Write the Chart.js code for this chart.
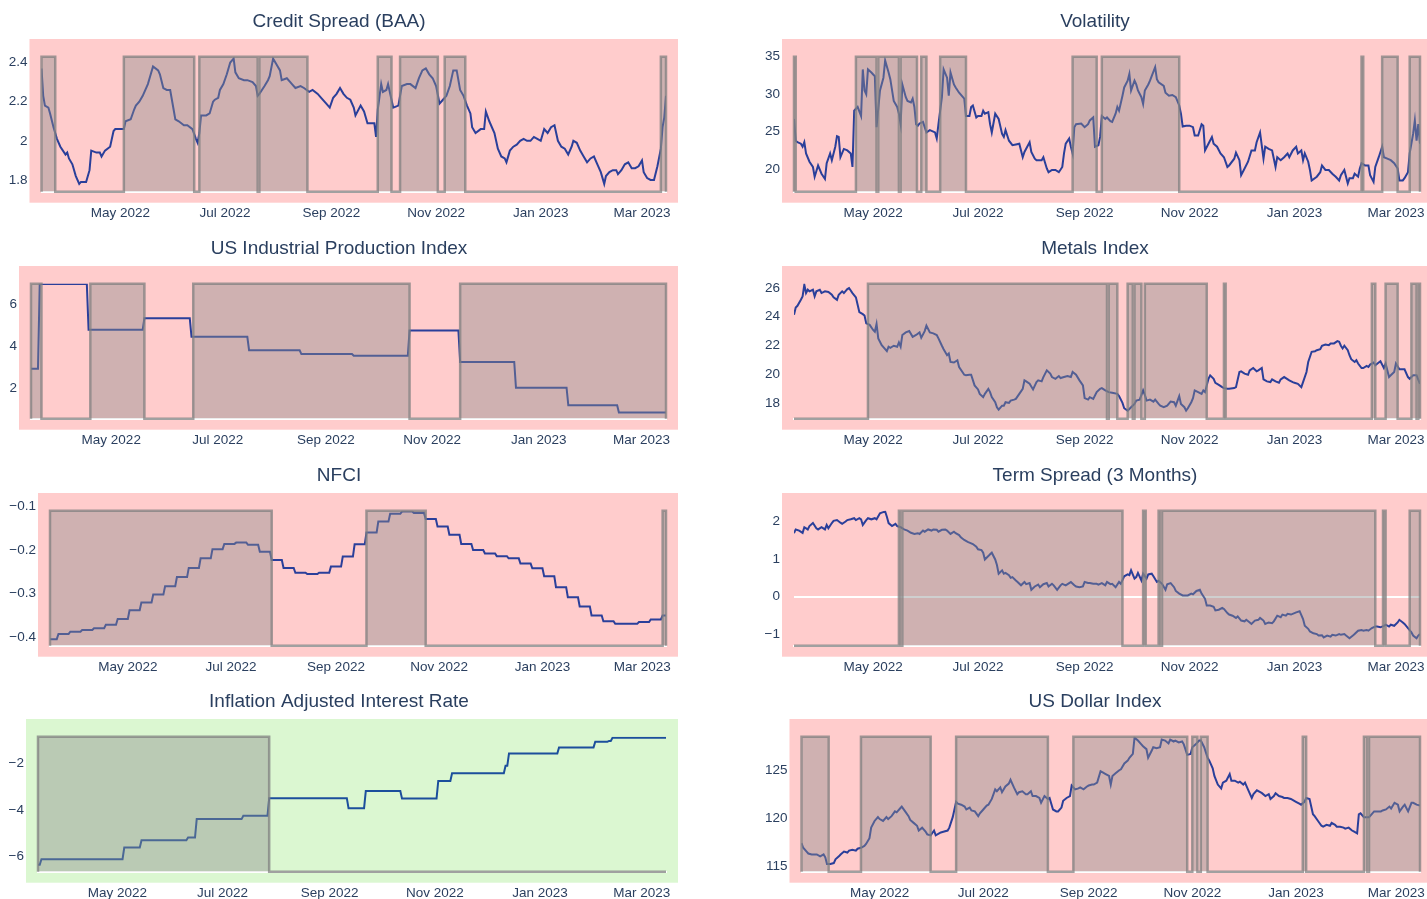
<!DOCTYPE html>
<html>
<head>
<meta charset="utf-8">
<script src="https://cdn.jsdelivr.net/npm/chart.js@4.4.1/dist/chart.umd.min.js"></script>
<style>
  html, body { margin: 0; padding: 0; background: #fff; overflow: hidden; width: 1427px; height: 899px; position: relative; }
  canvas { position: absolute; }
</style>
</head>
<body>
<script>
// x values are days since 2022-03-16
const START = Date.UTC(2022, 2, 16);
const END_DAY = 364;
const monthTickDates = ['2022-05-01', '2022-07-01', '2022-09-01', '2022-11-01', '2023-01-01', '2023-03-01'];
const monthLabels = ['May 2022', 'Jul 2022', 'Sep 2022', 'Nov 2022', 'Jan 2023', 'Mar 2023'];

// ---- Credit Spread (BAA) [day, value]
const creditSpread = [[0,2.37],[1,2.23],[2,2.18],[4,2.17],[5,2.14],[7,2.07],[8,2.04],[9,2.01],[11,1.97],[14,1.93],[15,1.94],[16,1.91],[18,1.88],[20,1.82],[22,1.78],[23,1.79],[26,1.79],[28,1.85],[29,1.95],[32,1.94],[34,1.94],[35,1.92],[37,1.95],[40,1.97],[42,2.05],[43,2.06],[46,2.06],[48,2.06],[49,2.10],[52,2.11],[54,2.16],[55,2.18],[57,2.20],[59,2.23],[62,2.29],[63,2.32],[65,2.38],[68,2.36],[69,2.34],[71,2.27],[73,2.26],[75,2.26],[77,2.16],[78,2.11],[80,2.10],[83,2.08],[85,2.08],[88,2.06],[90,2.01],[91,1.99],[92,2.04],[93,2.13],[96,2.13],[98,2.14],[100,2.20],[101,2.21],[103,2.22],[104,2.26],[106,2.29],[108,2.34],[110,2.40],[112,2.42],[113,2.35],[115,2.32],[118,2.31],[120,2.31],[123,2.30],[125,2.28],[126,2.23],[127,2.24],[130,2.28],[132,2.31],[133,2.33],[135,2.42],[137,2.39],[139,2.36],[140,2.31],[143,2.32],[145,2.30],[146,2.29],[148,2.27],[151,2.28],[153,2.27],[156,2.25],[158,2.26],[161,2.24],[163,2.22],[166,2.19],[168,2.17],[170,2.22],[172,2.24],[174,2.27],[176,2.24],[178,2.22],[180,2.21],[182,2.17],[183,2.13],[186,2.18],[188,2.15],[190,2.09],[192,2.09],[194,2.09],[195,2.02],[196,2.16],[198,2.29],[199,2.25],[201,2.26],[202,2.29],[204,2.21],[205,2.17],[208,2.18],[210,2.28],[213,2.29],[215,2.29],[218,2.27],[220,2.32],[222,2.36],[224,2.37],[226,2.34],[228,2.32],[230,2.28],[232,2.19],[234,2.21],[236,2.23],[238,2.28],[240,2.36],[242,2.36],[244,2.26],[246,2.23],[248,2.18],[250,2.14],[251,2.07],[253,2.04],[256,2.06],[258,2.06],[259,2.15],[261,2.10],[264,2.04],[266,1.96],[268,1.92],[270,1.91],[271,1.89],[273,1.95],[275,1.97],[277,1.98],[279,2.00],[281,2.01],[283,2.00],[285,2.00],[287,2.02],[289,2.01],[291,2.00],[293,2.06],[295,2.04],[297,2.07],[299,2.08],[301,2.00],[303,1.97],[305,1.96],[307,1.93],[309,1.97],[310,2.00],[312,1.99],[314,1.95],[316,1.92],[318,1.89],[320,1.91],[322,1.92],[324,1.88],[326,1.84],[328,1.78],[329,1.82],[331,1.84],[333,1.85],[335,1.85],[336,1.83],[338,1.85],[340,1.88],[342,1.89],[344,1.86],[346,1.86],[348,1.87],[350,1.90],[351,1.84],[353,1.81],[355,1.80],[357,1.80],[359,1.87],[361,1.96],[362,2.07],[363,2.12],[364,2.23]];
const creditRegime = [[0,8],[48,89],[92,126],[127,155],[196,204],[209,231],[235,247],[361,364]];
const creditBand = [1.74, 2.43];
const creditTicks = [1.8, 2, 2.2, 2.4];

// ---- Volatility
const volatility = [[0,26.7],[1,23.8],[2,23.6],[4,23.4],[5,23.0],[6,23.6],[7,22.1],[9,21.0],[11,20.3],[12,19.0],[14,20.5],[16,19.4],[18,18.7],[19,20.8],[21,22.1],[22,21.2],[24,23.0],[25,24.4],[26,24.3],[27,21.6],[29,22.7],[31,22.5],[33,22.1],[34,20.3],[35,27.8],[37,28.3],[39,27.1],[40,33.3],[41,30.5],[42,30.0],[43,33.3],[45,32.9],[47,32.4],[48,25.6],[50,30.5],[52,32.2],[53,34.5],[55,32.9],[56,32.0],[58,29.1],[60,28.3],[61,27.4],[62,26.0],[63,31.3],[65,29.6],[66,29.1],[68,28.9],[69,29.4],[70,28.3],[71,26.0],[72,25.8],[73,26.1],[75,26.3],[77,24.9],[79,25.2],[82,24.9],[83,24.1],[84,26.0],[86,29.6],[87,33.3],[89,32.2],[90,29.8],[91,32.9],[93,31.3],[94,30.9],[96,30.2],[99,29.4],[100,27.1],[102,27.1],[103,28.3],[104,28.5],[106,26.9],[107,27.1],[109,27.1],[110,27.8],[111,27.4],[113,27.6],[114,26.0],[115,24.9],[117,27.4],[119,26.7],[121,24.7],[122,24.3],[123,25.2],[125,23.8],[127,23.2],[129,23.3],[131,23.4],[133,21.6],[134,22.3],[137,23.6],[138,22.3],[140,21.4],[141,21.2],[144,21.2],[145,21.6],[147,20.1],[148,19.6],[150,19.9],[152,19.9],[154,19.6],[156,20.3],[157,22.1],[158,23.4],[160,24.1],[161,23.0],[162,22.1],[163,25.6],[164,26.0],[167,26.1],[169,25.6],[171,26.0],[172,26.5],[174,26.9],[175,23.0],[177,23.2],[178,24.3],[179,27.1],[181,26.7],[182,26.9],[184,26.4],[185,26.3],[187,27.4],[188,28.3],[189,27.8],[191,29.8],[192,30.9],[194,31.8],[195,32.7],[196,30.5],[198,31.8],[199,31.3],[200,30.5],[202,29.6],[203,28.7],[204,30.5],[206,31.3],[207,31.8],[208,32.4],[210,33.6],[211,32.0],[212,31.6],[215,31.1],[216,30.2],[218,29.8],[220,29.9],[222,29.6],[224,28.5],[225,27.4],[226,25.7],[228,25.8],[230,25.8],[232,25.6],[233,24.5],[235,24.5],[237,26.0],[238,25.8],[239,22.5],[241,23.4],[243,24.3],[244,23.4],[246,23.0],[248,22.1],[250,21.6],[252,20.3],[253,20.5],[256,21.4],[257,22.2],[259,21.2],[260,19.2],[262,20.1],[264,21.0],[266,22.5],[268,22.5],[269,23.6],[271,24.9],[273,21.4],[274,23.0],[276,22.7],[278,22.5],[280,20.3],[281,21.6],[283,21.2],[285,21.6],[287,22.1],[288,21.6],[290,22.5],[292,23.0],[293,22.1],[295,22.5],[296,21.2],[297,22.1],[299,21.0],[300,19.9],[301,18.5],[304,19.0],[306,19.6],[307,20.5],[309,19.9],[311,19.9],[313,19.4],[315,19.0],[317,18.5],[318,19.2],[320,19.9],[322,18.1],[323,18.8],[325,18.8],[326,19.4],[328,19.0],[329,20.1],[330,20.8],[332,20.5],[334,20.5],[335,19.2],[337,18.3],[338,20.3],[340,21.6],[342,23.0],[343,21.6],[345,21.4],[347,21.2],[349,20.8],[351,20.1],[352,18.5],[354,18.5],[355,18.8],[357,19.6],[358,22.1],[360,24.7],[361,26.5],[362,23.8],[363,26.0],[364,23.4]];
const volRegime = [[0,1],[36,48],[49,61],[62,71.5],[74,77],[85,100],[162,176],[179,224],[330,331],[342,351],[358,364]];
const volBand = [17, 35];
const volTicks = [20, 25, 30, 35];

// ---- US Industrial Production Index (step series: start day, level)
const ipStart = [0, 5, 33, 65, 92, 125, 155, 185, 217, 246, 278, 308, 337];
const ipLevel = [2.93, 6.96, 4.78, 5.33, 4.45, 3.81, 3.63, 3.55, 4.75, 3.25, 2.03, 1.2, 0.85];
const ipRegime = [[0,6],[34,65],[93,217],[246,364]];
const ipBand = [0.56, 6.97];
const ipTicks = [2, 4, 6];

// ---- Metals Index
const metals = [[0,24.13],[1,24.64],[2,24.76],[4,25.18],[5,25.42],[6,26.23],[7,25.65],[8,25.88],[9,25.77],[11,25.88],[12,25.42],[13,25.77],[15,25.88],[16,25.65],[18,25.77],[20,25.72],[22,25.53],[23,25.35],[25,25.18],[26,25.53],[28,25.77],[29,25.65],[31,25.93],[32,26.0],[34,25.65],[36,25.35],[37,24.83],[38,24.32],[40,24.18],[41,24.08],[42,23.54],[44,23.43],[46,23.08],[47,22.96],[48,23.5],[49,22.49],[51,22.02],[53,21.74],[54,21.6],[55,21.91],[56,21.84],[58,21.98],[60,21.91],[61,22.21],[62,21.91],[63,22.73],[65,22.91],[67,23.0],[69,22.6],[71,22.73],[73,22.91],[74,22.54],[76,23.0],[77,23.38],[79,22.91],[81,22.84],[83,22.73],[84,22.49],[86,21.98],[87,21.74],[89,21.32],[90,21.44],[91,20.85],[93,20.81],[95,20.97],[96,20.5],[99,19.96],[100,19.92],[102,19.96],[103,19.96],[105,19.22],[107,18.94],[108,18.63],[110,18.4],[111,18.63],[113,18.98],[114,18.75],[115,18.4],[117,18.05],[118,17.7],[119,17.53],[121,17.81],[122,17.81],[123,18.05],[125,18.0],[126,18.16],[128,18.23],[129,18.28],[131,18.63],[133,18.98],[134,19.57],[135,19.5],[137,19.33],[139,18.94],[141,19.45],[142,19.57],[144,19.5],[145,19.8],[147,20.27],[149,20.04],[150,19.8],[152,19.68],[154,19.87],[155,19.73],[157,19.8],[159,19.87],[161,19.8],[162,20.15],[164,19.96],[166,19.57],[168,19.22],[169,18.33],[171,18.23],[172,18.4],[174,18.28],[176,18.75],[178,18.98],[179,19.03],[181,18.87],[183,18.75],[185,18.7],[188,18.63],[189,18.47],[191,18.0],[192,17.63],[194,17.46],[196,17.7],[198,17.93],[199,18.16],[201,18.23],[203,18.87],[204,18.56],[205,18.16],[207,18.23],[209,18.09],[210,18.23],[212,17.93],[213,17.81],[215,17.7],[217,17.81],[219,18.09],[221,18.05],[222,17.81],[224,18.47],[225,17.93],[227,17.7],[228,17.46],[229,17.63],[231,18.05],[232,18.33],[233,18.87],[235,18.75],[237,18.63],[238,18.87],[239,18.75],[241,19.68],[242,19.92],[244,19.68],[245,19.4],[247,19.26],[249,19.1],[250,19.03],[252,18.98],[253,18.98],[256,19.03],[257,19.1],[259,20.15],[260,20.2],[262,20.04],[264,19.96],[265,20.27],[267,20.43],[269,20.2],[270,20.27],[272,20.43],[273,19.64],[275,19.5],[277,19.45],[278,19.64],[280,19.5],[282,19.4],[283,19.64],[285,19.8],[286,19.73],[288,19.57],[290,19.45],[291,19.4],[293,19.33],[295,19.1],[296,19.45],[298,20.15],[299,20.85],[301,21.56],[303,21.6],[304,21.67],[306,21.74],[307,21.98],[309,22.07],[311,22.02],[312,22.14],[314,22.14],[316,22.3],[317,22.26],[318,21.98],[319,21.79],[320,21.98],[322,21.67],[323,21.32],[324,21.04],[326,20.85],[327,20.97],[328,20.74],[330,20.43],[331,20.43],[333,20.57],[334,20.5],[335,20.67],[337,20.81],[338,20.62],[340,20.81],[341,20.9],[343,20.43],[344,20.74],[346,19.8],[347,19.92],[349,20.15],[350,20.74],[352,20.34],[353,20.34],[355,20.34],[357,19.8],[358,19.68],[360,19.92],[361,19.92],[362,19.92],[364,19.33]];
const metalsRegime = [[43,182],[183,188],[194,197],[198,202],[204,240],[250,251],[336,338],[344,351],[359,362],[363,364]];
const metalsBand = [16.9, 26.3];
const metalsTicks = [18, 20, 22, 24, 26];

// ---- NFCI (weekly step series)
const nfciStart = [0,5,12,19,26,33,40,47,54,61,68,75,82,89,96,103,110,117,124,131,138,145,152,159,166,173,180,187,194,201,208,215,222,229,236,243,250,257,264,271,278,285,292,299,306,313,320,327,334,341,348,355,362];
const nfciLevel = [-0.404,-0.392,-0.387,-0.383,-0.379,-0.371,-0.358,-0.338,-0.320,-0.302,-0.283,-0.262,-0.241,-0.219,-0.198,-0.186,-0.183,-0.188,-0.204,-0.223,-0.241,-0.252,-0.255,-0.252,-0.238,-0.215,-0.187,-0.160,-0.135,-0.117,-0.112,-0.115,-0.129,-0.146,-0.165,-0.186,-0.200,-0.208,-0.214,-0.219,-0.231,-0.242,-0.260,-0.285,-0.308,-0.329,-0.350,-0.363,-0.369,-0.369,-0.365,-0.359,-0.350];
const nfciRegime = [[0,131],[187,222],[362,364]];
const nfciBand = [-0.419, -0.11];
const nfciTicks = [-0.4, -0.3, -0.2, -0.1];

// ---- Term Spread (3 Months)
const termSpread = [[0,1.69],[1,1.79],[3,1.76],[5,1.70],[6,1.85],[8,1.79],[9,1.88],[11,1.96],[13,1.82],[14,1.79],[16,1.85],[18,1.79],[19,1.91],[20,1.82],[22,1.96],[23,2.02],[25,2.04],[27,1.97],[28,1.94],[30,2.00],[31,2.04],[33,2.06],[35,2.09],[36,2.04],[38,2.09],[39,2.06],[40,1.91],[42,2.04],[43,2.09],[45,2.06],[47,2.09],[48,2.06],[50,2.22],[51,2.24],[53,2.27],[54,2.13],[55,1.96],[57,1.88],[59,1.94],[60,1.88],[62,1.85],[64,1.79],[66,1.76],[68,1.70],[70,1.67],[72,1.69],[73,1.67],[75,1.76],[76,1.73],[78,1.79],[80,1.76],[81,1.79],[83,1.78],[84,1.73],[86,1.78],[88,1.79],[89,1.76],[91,1.67],[93,1.73],[94,1.69],[96,1.64],[97,1.58],[99,1.51],[101,1.46],[102,1.44],[104,1.40],[106,1.33],[107,1.26],[109,1.24],[110,1.17],[111,0.99],[113,1.08],[114,1.13],[115,1.17],[117,0.99],[118,0.84],[119,0.61],[121,0.70],[122,0.61],[123,0.63],[125,0.57],[126,0.50],[127,0.52],[129,0.43],[130,0.39],[132,0.30],[134,0.39],[135,0.33],[137,0.36],[138,0.18],[140,0.27],[142,0.32],[143,0.25],[145,0.33],[147,0.36],[148,0.27],[150,0.34],[151,0.30],[153,0.18],[155,0.30],[156,0.34],[158,0.30],[160,0.36],[161,0.39],[163,0.30],[164,0.27],[166,0.25],[168,0.27],[169,0.39],[171,0.36],[172,0.36],[174,0.34],[176,0.34],[177,0.32],[179,0.36],[181,0.30],[182,0.39],[184,0.33],[185,0.34],[187,0.25],[189,0.39],[190,0.34],[192,0.54],[194,0.59],[195,0.57],[196,0.70],[198,0.48],[199,0.52],[200,0.63],[202,0.43],[203,0.61],[205,0.48],[206,0.59],[208,0.61],[209,0.54],[211,0.39],[212,0.42],[214,0.34],[216,0.18],[217,0.33],[219,0.36],[221,0.25],[222,0.15],[224,0.08],[226,0.03],[228,0.03],[229,0.03],[231,0.08],[232,0.06],[234,0.15],[236,0.18],[237,0.08],[239,-0.06],[240,-0.24],[242,-0.24],[244,-0.27],[245,-0.37],[247,-0.35],[249,-0.30],[250,-0.33],[252,-0.44],[253,-0.48],[255,-0.51],[257,-0.57],[258,-0.53],[260,-0.64],[262,-0.66],[263,-0.62],[265,-0.69],[266,-0.73],[268,-0.64],[270,-0.62],[271,-0.57],[273,-0.64],[274,-0.73],[276,-0.69],[278,-0.71],[279,-0.66],[281,-0.51],[283,-0.55],[284,-0.48],[286,-0.51],[287,-0.46],[289,-0.48],[291,-0.44],[292,-0.42],[294,-0.39],[296,-0.60],[297,-0.78],[299,-0.86],[300,-0.93],[302,-0.98],[304,-1.00],[305,-1.04],[307,-1.03],[308,-1.09],[310,-1.04],[312,-1.07],[313,-1.02],[315,-1.04],[317,-1.00],[318,-1.02],[320,-1.00],[321,-1.04],[323,-1.11],[325,-1.04],[326,-1.00],[328,-0.91],[330,-0.89],[331,-0.91],[333,-0.89],[334,-0.91],[336,-0.84],[338,-0.80],[339,-0.80],[341,-0.82],[343,-0.78],[344,-0.75],[346,-0.80],[347,-0.75],[349,-0.78],[351,-0.69],[352,-0.62],[354,-0.69],[355,-0.73],[357,-0.84],[359,-0.95],[360,-1.04],[362,-1.11],[363,-1.04],[364,-1.00]];
const termRegime = [[61,62],[63,191],[203,204.5],[212,213],[214,338],[342.5,344],[358,364]];
const termBand = [-1.31, 2.29];
const termTicks = [-1, 0, 1, 2];

// ---- Inflation Adjusted Interest Rate (step series)
const realStart = [0, 2, 50, 60, 87, 92, 119, 134, 180, 190, 211, 232, 240, 271, 273, 302, 323, 331, 333];
const realLevel = [-6.35, -6.11, -5.61, -5.30, -5.18, -4.39, -4.25, -3.49, -3.92, -3.18, -3.51, -2.75, -2.42, -2.10, -1.57, -1.31, -1.07, -1.03, -0.90];
const realRegime = [[0,134]];
const realBand = [-6.65, -0.85];
const realTicks = [-6, -4, -2];

// ---- US Dollar Index
const dollarIndex = [[0,117.4],[1,116.9],[3,116.5],[4,116.3],[6,116.2],[8,116.2],[9,116.2],[11,116.0],[13,116.2],[14,115.9],[15,115.2],[17,115.2],[19,115.3],[20,115.7],[22,116.0],[23,116.2],[25,116.5],[27,116.4],[28,116.6],[30,116.7],[32,116.6],[33,116.8],[35,116.9],[37,117.1],[38,117.3],[40,117.9],[41,119.0],[43,119.7],[45,120.1],[46,119.9],[48,119.7],[50,120.1],[51,119.9],[53,120.2],[55,120.7],[56,120.6],[58,121.0],[59,121.2],[61,120.7],[63,120.2],[64,119.8],[66,119.5],[68,119.2],[69,118.7],[71,119.0],[73,118.6],[74,118.3],[76,118.2],[78,118.7],[79,118.2],[81,118.4],[82,118.5],[84,118.6],[86,118.7],[87,119.0],[89,120.1],[91,121.7],[92,121.5],[94,121.4],[96,121.2],[97,120.9],[99,121.1],[100,120.8],[102,120.7],[104,120.2],[105,120.5],[107,120.9],[109,121.3],[110,121.4],[112,122.0],[114,123.0],[115,122.8],[117,123.2],[118,122.7],[120,123.3],[122,123.6],[123,124.0],[125,123.2],[127,122.5],[128,122.7],[130,122.8],[132,122.5],[133,122.5],[135,122.8],[136,122.3],[138,122.3],[140,122.1],[141,121.6],[143,122.3],[145,122.0],[146,122.1],[148,120.9],[150,120.7],[151,120.7],[153,121.1],[154,121.8],[156,122.1],[158,122.3],[159,123.4],[161,123.0],[163,123.1],[164,123.2],[166,123.0],[168,123.3],[169,123.4],[171,123.5],[172,123.5],[174,123.7],[176,124.9],[177,124.8],[179,124.6],[181,124.4],[182,123.5],[183,124.4],[185,124.7],[187,125.0],[188,125.1],[190,125.7],[192,126.0],[193,126.3],[195,126.7],[196,128.4],[198,128.1],[200,127.7],[201,127.5],[203,127.2],[204,126.3],[206,127.0],[207,127.4],[209,127.3],[211,127.4],[212,128.2],[214,128.1],[216,127.8],[217,128.2],[219,128.0],[220,128.1],[222,127.9],[224,128.0],[225,127.7],[227,126.6],[229,126.7],[230,127.4],[232,127.7],[234,128.1],[235,128.1],[237,127.4],[239,126.3],[240,126.0],[242,125.2],[243,124.4],[245,123.5],[247,123.1],[248,123.7],[250,123.9],[252,124.6],[253,123.9],[255,123.9],[257,123.7],[258,123.8],[260,123.5],[261,123.7],[263,122.9],[265,122.1],[266,122.5],[268,122.9],[270,122.7],[271,122.6],[273,122.3],[275,122.5],[276,122.0],[278,122.3],[279,122.6],[281,122.3],[283,122.2],[284,122.1],[286,122.1],[288,122.0],[289,121.9],[291,121.7],[293,121.5],[294,121.4],[296,121.7],[297,122.1],[299,122.0],[301,120.4],[302,120.2],[304,119.7],[306,119.2],[307,119.1],[309,119.3],[311,119.2],[312,119.5],[314,119.3],[315,119.1],[317,119.1],[319,119.0],[320,118.9],[322,119.0],[324,118.7],[325,118.6],[327,118.4],[328,120.4],[329,120.5],[331,120.1],[332,120.1],[334,120.1],[336,120.5],[337,120.7],[339,120.7],[341,120.7],[342,120.8],[344,120.9],[346,121.2],[347,121.0],[349,121.6],[351,121.4],[352,120.7],[354,121.2],[355,121.4],[357,120.7],[359,121.6],[360,121.6],[362,121.4],[364,121.3]];
const dollarRegime = [[0,16],[35,76],[91,145],[160,227],[230,233],[235,239],[295,297],[331,333],[334,364]];
const dollarBand = [114.4, 128.5];
const dollarTicks = [115, 120, 125];

// ---------------------------------------------------------------
const TEXT = '#2a3f5f';
const FONT = 'Liberation Sans, Arial, sans-serif';
const PINK = 'rgb(255,204,204)';
const GREEN = 'rgb(219,247,209)';
const monthTickDays = monthTickDates.map(d => (Date.parse(d) - START) / 86400000);

function pairsToPoints(pairs) {
  return pairs.map(([x, y]) => ({ x, y }));
}

function stepToPoints(starts, levels) {
  const pts = [];
  starts.forEach((s, i) => {
    const end = i + 1 < starts.length ? starts[i + 1] - 1 : END_DAY;
    pts.push({ x: s, y: levels[i] }, { x: end, y: levels[i] });
  });
  return pts;
}

function regimePoints(periods, lo, hi) {
  const pts = [];
  if (!periods.length || periods[0][0] > 0) pts.push({ x: 0, y: lo });
  periods.forEach(([a, b]) => {
    pts.push({ x: a, y: lo }, { x: a, y: hi }, { x: b, y: hi }, { x: b, y: lo });
  });
  if (pts[pts.length - 1].x < END_DAY) pts.push({ x: END_DAY, y: lo });
  return pts;
}

function fmt(v) {
  return v < 0 ? '\u2212' + Math.abs(v) : String(v);
}

// pink / green panel background, a little larger than the plot area
const panelBg = {
  id: 'panelBg',
  beforeDraw(chart, args, opts) {
    const { ctx, chartArea: a } = chart;
    ctx.save();
    ctx.fillStyle = opts.color;
    ctx.fillRect(a.left - 12, a.top - 17.7, a.right - a.left + 24, a.bottom - a.top + 28.7);
    ctx.restore();
  }
};

const ROW_TOP = [0, 227, 454, 680];
const COL = [{ left: 0, width: 678 }, { left: 758, width: 674 }];

const panels = [
  { title: 'Credit Spread (BAA)', row: 0, col: 0, axisW: 41.5, data: pairsToPoints(creditSpread), regime: creditRegime, band: creditBand, ticks: creditTicks },
  { title: 'Volatility', row: 0, col: 1, axisW: 36, data: pairsToPoints(volatility), regime: volRegime, band: volBand, ticks: volTicks },
  { title: 'US Industrial Production Index', row: 1, col: 0, axisW: 31, data: stepToPoints(ipStart, ipLevel), regime: ipRegime, band: ipBand, ticks: ipTicks },
  { title: 'Metals Index', row: 1, col: 1, axisW: 36, data: pairsToPoints(metals), regime: metalsRegime, band: metalsBand, ticks: metalsTicks },
  { title: 'NFCI', row: 2, col: 0, axisW: 50, data: stepToPoints(nfciStart, nfciLevel), regime: nfciRegime, band: nfciBand, ticks: nfciTicks },
  { title: 'Term Spread (3 Months)', row: 2, col: 1, axisW: 36, data: pairsToPoints(termSpread), regime: termRegime, band: termBand, ticks: termTicks, zero: true },
  { title: 'Inflation Adjusted Interest Rate', row: 3, col: 0, axisW: 38, data: stepToPoints(realStart, realLevel), regime: realRegime, band: realBand, ticks: realTicks, bg: GREEN, line: '#1c4f9c' },
  { title: 'US Dollar Index', row: 3, col: 1, axisW: 43.5, data: pairsToPoints(dollarIndex), regime: dollarRegime, band: dollarBand, ticks: dollarTicks }
];

panels.forEach(p => {
  const c = document.createElement('canvas');
  c.width = COL[p.col].width;
  c.height = 227;
  c.style.left = COL[p.col].left + 'px';
  c.style.top = ROW_TOP[p.row] + 'px';
  document.body.appendChild(c);

  const [lo, hi] = p.band;
  new Chart(c, {
    type: 'line',
    data: {
      datasets: [
        {
          data: p.data,
          borderColor: p.line || '#2a3f9a',
          borderWidth: 2,
          pointRadius: 0,
          fill: false,
          tension: 0,
          order: 1
        },
        {
          data: regimePoints(p.regime, lo, hi),
          borderColor: 'rgba(128,128,128,0.75)',
          borderWidth: 2.5,
          backgroundColor: 'rgba(140,140,140,0.42)',
          fill: 'start',
          pointRadius: 0,
          tension: 0,
          clip: false,
          order: 0
        }
      ]
    },
    options: {
      responsive: false,
      animation: false,
      events: [],
      layout: { padding: 0 },
      plugins: {
        legend: { display: false },
        tooltip: { enabled: false },
        title: {
          display: true,
          text: p.title,
          color: TEXT,
          font: { family: FONT, size: 19, weight: 'normal' },
          padding: { top: 10.6, bottom: 23.3 }
        },
        panelBg: { color: p.bg || PINK }
      },
      scales: {
        x: {
          type: 'linear',
          min: 0,
          max: END_DAY,
          grid: { display: false, drawTicks: false },
          border: { display: true, color: '#ffffff', width: 2 },
          afterBuildTicks: s => { s.ticks = monthTickDays.map(v => ({ value: v })); },
          afterFit: s => { s.height = 35.3; s.paddingLeft = 0; s.paddingRight = 0; },
          ticks: {
            autoSkip: false,
            maxRotation: 0,
            padding: 13,
            color: TEXT,
            font: { family: FONT, size: 13.5 },
            callback: (v, i) => monthLabels[i]
          }
        },
        y: {
          min: lo,
          max: hi,
          grid: {
            display: !!p.zero,
            drawTicks: false,
            lineWidth: 2,
            color: ctx => (ctx.tick && ctx.tick.value === 0 ? '#ffffff' : 'rgba(0,0,0,0)')
          },
          border: { display: false },
          afterBuildTicks: s => { s.ticks = p.ticks.map(v => ({ value: v })); },
          afterFit: s => { s.width = p.axisW; s.paddingTop = 0; s.paddingBottom = 0; },
          ticks: {
            padding: 14,
            color: TEXT,
            font: { family: FONT, size: 13.5 },
            callback: v => fmt(v)
          }
        },
        // empty right-hand strip so the plot ends 12px before the canvas edge
        yPad: {
          position: 'right',
          display: true,
          min: 0,
          max: 1,
          grid: { display: false, drawTicks: false },
          border: { display: false },
          ticks: { display: false },
          afterFit: s => { s.width = 12; s.paddingTop = 0; s.paddingBottom = 0; }
        }
      }
    },
    plugins: [panelBg]
  });
});
</script>
</body>
</html>
